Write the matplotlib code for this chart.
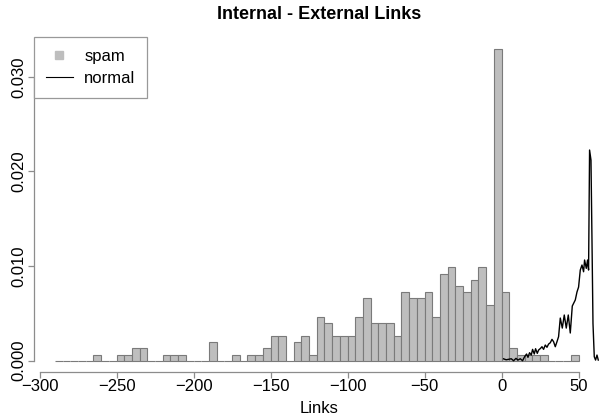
import numpy as np
import matplotlib
matplotlib.use("Agg")
import matplotlib.pyplot as plt
from matplotlib.lines import Line2D

plt.rcParams['font.family'] = ['Liberation Sans', 'DejaVu Sans']

# spam: counts per 5-link bin (left edge of each non-empty bin)
bin_width = 5
bin_range = (-290, 50)
spam_left = [-265, -250, -245, -240, -235, -220, -215, -210, -190, -175,
             -165, -160, -155, -150, -145, -135, -130, -125, -120, -115,
             -110, -105, -100, -95, -90, -85, -80, -75, -70, -65,
             -60, -55, -50, -45, -40, -35, -30, -25, -20, -15,
             -10, -5, 0, 5, 10, 15, 20, 25, 45]
spam_counts = [1, 1, 1, 2, 2, 1, 1, 1, 3, 1,
               1, 1, 2, 4, 4, 3, 4, 1, 7, 6,
               4, 4, 4, 7, 10, 6, 6, 6, 4, 11,
               10, 10, 11, 7, 14, 15, 12, 11, 13, 15,
               9, 50, 11, 2, 1, 1, 1, 1, 1]

# normal: density curve
normal_x = [1.3, 3.0, 4.55, 6.30, 7.79, 9.35, 10.65, 12.14, 13.64, 14.94,
            16.23, 17.14, 18.18, 19.29, 20.13, 21.23, 22.08, 23.18, 24.03, 25.32,
            26.23, 27.27, 28.38, 29.48, 30.52, 31.62, 32.73, 33.77, 34.87, 35.97,
            37.01, 38.12, 39.42, 40.71, 42.01, 43.31, 44.61, 45.91, 47.86, 48.96,
            50.0, 51.10, 52.21, 53.25, 53.90, 55.0, 55.84, 56.49, 57.14, 58.05,
            58.70, 59.35, 60.19, 61.04, 61.95, 62.79]
normal_y = [0.00020, 0.00010, 0.00015, 0.00021, 0.00000, 0.00025, 0.00007, 0.00021, 0.00000, 0.00042,
            0.00071, 0.00036, 0.00085, 0.00060, 0.00120, 0.00071, 0.00127, 0.00078, 0.00113, 0.00131,
            0.00148, 0.00120, 0.00166, 0.00142, 0.00176, 0.00190, 0.00226, 0.00201, 0.00148, 0.00201,
            0.00254, 0.00451, 0.00345, 0.00483, 0.00345, 0.00483, 0.00293, 0.00578, 0.00642, 0.00726,
            0.00778, 0.00958, 0.01011, 0.00940, 0.01064, 0.00976, 0.01064, 0.00958, 0.02226, 0.02120,
            0.01276, 0.00394, 0.00042, 0.00007, 0.00060, 0.00007]

x_ticks = [-300, -250, -200, -150, -100, -50, 0, 50]
y_ticks = [0.000, 0.010, 0.020, 0.030]
y_tick_labels = ['0.000', '0.010', '0.020', '0.030']

# histogram densities over the full set of bins (empty bins drawn flat)
edges = np.arange(bin_range[0], bin_range[1], bin_width)
counts = np.zeros(len(edges))
for left, c in zip(spam_left, spam_counts):
    counts[list(edges).index(left)] = c
density = counts / (counts.sum() * bin_width)

fig = plt.figure(figsize=(5.99, 4.20), dpi=100)
ax = fig.add_axes([34.3 / 599, 48 / 420, 570 / 599, 335 / 420])

grid_col = '#8c8c8c'
ax.bar(edges, density, width=bin_width, align='edge', color='#bebebe',
       edgecolor='#7a7a7a', linewidth=0.8, zorder=2)
ax.plot(normal_x, normal_y, color='black', linewidth=1.0, zorder=3)

ax.set_xlim(-303.4, 66.7)
ax.set_ylim(-0.00119, 0.0342)

for side in ['top', 'right']:
    ax.spines[side].set_visible(False)
ax.spines['bottom'].set_bounds(-300, 50)
ax.spines['left'].set_bounds(0, 0.03)
for side in ['bottom', 'left']:
    ax.spines[side].set_color(grid_col)
    ax.spines[side].set_linewidth(0.9)

ax.set_xticks(x_ticks)
ax.set_yticks(y_ticks)
ax.set_yticklabels(y_tick_labels, rotation=90, va='center')
ax.tick_params(axis='x', length=4, pad=1, labelsize=12, color=grid_col, width=0.9)
ax.tick_params(axis='y', length=4, pad=2, labelsize=12, color=grid_col, width=0.9)

ax.set_xlabel('Links', fontsize=12, labelpad=5)
ax.set_title('Internal - External Links', fontsize=13, fontweight='bold', pad=13)

handles = [Line2D([], [], linestyle='none', marker='s', markersize=6,
                  markerfacecolor='#bebebe', markeredgecolor='#bebebe'),
           Line2D([], [], color='black', linewidth=0.8)]
leg = ax.legend(handles, ['spam', 'normal'], loc='upper left',
                bbox_to_anchor=(0, 1), borderaxespad=0, fancybox=False,
                fontsize=12, handlelength=1.6, handletextpad=0.7,
                borderpad=0.7, labelspacing=0.45, framealpha=1)
leg.get_frame().set_edgecolor('#999999')
leg.get_frame().set_linewidth(0.9)

fig.savefig('out.png', dpi=100)
